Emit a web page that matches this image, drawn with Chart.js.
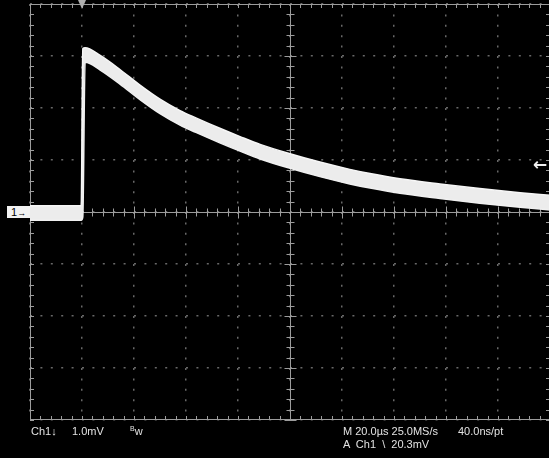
<!DOCTYPE html>
<html>
<head>
<meta charset="utf-8">
<script src="https://cdn.jsdelivr.net/npm/chart.js@4.4.1/dist/chart.umd.min.js"></script>
<style>
  html, body { margin: 0; padding: 0; background: #000; overflow: hidden; }
  #wrap { position: relative; width: 552px; height: 458px; }
  .lbl { position: absolute; color: #e2e2e2; font: 11px "Liberation Sans", Arial, sans-serif; white-space: pre; line-height: 12px; }
  #chmark { position: absolute; background: #f2f2f2; color: #000000; font: 11px "Liberation Sans", Arial, sans-serif; width: 19px; height: 12px; line-height: 12px; padding-left: 4px; white-space: pre; }
  #trig { position: absolute; color: #f0f0f0; font: bold 17px "DejaVu Sans", sans-serif; line-height: 14px; }
</style>
</head>
<body>
<div id="wrap">
  <canvas id="scope" width="552" height="458"></canvas>
  <div id="chmark">1<span style="font-size:9px;">&#8594;</span></div>
  <div id="trig">&#8592;</div>
  <div class="lbl" style="left:31px;top:425px;">Ch1&#8595;</div>
  <div class="lbl" style="left:72px;top:425px;">1.0mV</div>
  <div class="lbl" style="left:130px;top:425px;"><span style="font-size:7px;vertical-align:top;line-height:8px;">B</span>w</div>
  <div class="lbl" style="left:343px;top:425px;">M 20.0µs 25.0MS/s</div>
  <div class="lbl" style="left:458px;top:425px;">40.0ns/pt</div>
  <div class="lbl" style="left:343px;top:438px;">A  Ch1  \  20.3mV</div>
</div>
<script>
// trace (time in µs from trigger, level in mV / div)
const times = [-20, -10, -0.3, 0.3, 1.2, 7, 14.6, 22.3, 30, 37.7, 43.8, 53, 60.8, 68.5, 80, 91.5, 103, 110.8, 122.3, 137.7, 153, 168.5, 180];
const traceHigh = [0.12, 0.12, 0.12, 3.14, 3.16, 3.01, 2.74, 2.44, 2.17, 1.95, 1.81, 1.61, 1.45, 1.30, 1.12, 0.96, 0.82, 0.74, 0.64, 0.54, 0.45, 0.37, 0.32];
const traceLow = [-0.16, -0.16, -0.16, -0.10, 2.88, 2.73, 2.46, 2.16, 1.89, 1.67, 1.53, 1.33, 1.17, 1.02, 0.84, 0.68, 0.54, 0.46, 0.36, 0.26, 0.17, 0.09, 0.04];

// graticule: 10 x 8 divisions
const timeRange = [-20, 180];
const timePerDiv = 20;
const voltRange = [-4, 4];
const voltPerDiv = 1;
const triggerTime = 0;
const triggerLevel = 0.9;

const gratColor = '#9c9c9c';

// frame, centre cross, minor ticks and trigger marker
const graticule = {
    id: 'graticule',
    beforeDatasetsDraw(chart) {
        const { ctx, chartArea: a, scales: { x, y } } = chart;
        const cx = Math.round(x.getPixelForValue((timeRange[0] + timeRange[1]) / 2)) + 0.5;
        const cy = Math.round(y.getPixelForValue(0)) + 0.5;
        ctx.save();
        ctx.strokeStyle = gratColor;
        ctx.lineWidth = 1;
        ctx.strokeRect(a.left + 0.5, a.top + 0.5, a.width - 1, a.height - 1);
        ctx.beginPath();
        ctx.moveTo(cx, a.top); ctx.lineTo(cx, a.bottom);
        ctx.moveTo(a.left, cy); ctx.lineTo(a.right, cy);

        // minor ticks along time axis
        const tStep = timePerDiv / 5;
        for (let t = timeRange[0]; t <= timeRange[1] + 1e-6; t += tStep) {
            const px = Math.round(x.getPixelForValue(t)) + 0.5;
            const major = Math.abs((t - timeRange[0]) % timePerDiv) < 1e-6;
            const len = major ? 6 : 4;
            ctx.moveTo(px, a.top); ctx.lineTo(px, a.top + 4);
            ctx.moveTo(px, a.bottom); ctx.lineTo(px, a.bottom - 4);
            ctx.moveTo(px, cy - len); ctx.lineTo(px, cy + len);
        }
        // minor ticks along volt axis
        const vStep = voltPerDiv / 5;
        for (let v = voltRange[0]; v <= voltRange[1] + 1e-6; v += vStep) {
            const py = Math.round(y.getPixelForValue(v)) + 0.5;
            const major = Math.abs(Math.round(v / voltPerDiv) - v / voltPerDiv) < 1e-6;
            const len = major ? 6 : 4;
            ctx.moveTo(a.left, py); ctx.lineTo(a.left + 4, py);
            ctx.moveTo(a.right, py); ctx.lineTo(a.right - 4, py);
            ctx.moveTo(cx - len, py); ctx.lineTo(cx + len, py);
        }
        ctx.stroke();

        // trigger position marker at top
        const tx = x.getPixelForValue(triggerTime);
        ctx.fillStyle = '#b0b0b0';
        ctx.beginPath();
        ctx.moveTo(tx - 4, a.top - 4);
        ctx.lineTo(tx + 4, a.top - 4);
        ctx.lineTo(tx, a.top + 5);
        ctx.closePath();
        ctx.fill();
        ctx.restore();
    }
};

const ctx = document.getElementById('scope').getContext('2d');
const chart = new Chart(ctx, {
    type: 'line',
    data: {
        datasets: [{
            label: 'high',
            data: times.map((t, i) => ({ x: t, y: traceHigh[i] })),
            borderColor: '#f6f6f6',
            borderWidth: 1.5,
            pointRadius: 0,
            cubicInterpolationMode: 'monotone',
            fill: false
        }, {
            label: 'low',
            data: times.map((t, i) => ({ x: t, y: traceLow[i] })),
            borderColor: '#f0f0f0',
            backgroundColor: '#ececec',
            borderWidth: 1.5,
            pointRadius: 0,
            cubicInterpolationMode: 'monotone',
            fill: '-1'
        }]
    },
    options: {
        responsive: false,
        animation: false,
        events: [],
        layout: { padding: { left: 30, top: 4, right: 2, bottom: 38 } },
        scales: {
            x: {
                type: 'linear',
                min: timeRange[0],
                max: timeRange[1],
                ticks: { display: false, stepSize: timePerDiv },
                grid: { color: '#686868', lineWidth: 1.5, drawTicks: false },
                border: { display: false, dash: [2, 8.4] }
            },
            y: {
                min: voltRange[0],
                max: voltRange[1],
                ticks: { display: false, stepSize: voltPerDiv },
                grid: { color: '#686868', lineWidth: 1.5, drawTicks: false },
                border: { display: false, dash: [2, 8.4] }
            }
        },
        plugins: {
            legend: { display: false },
            tooltip: { enabled: false }
        }
    },
    plugins: [graticule]
});

// channel ground marker and trigger level arrow
const zeroY = chart.scales.y.getPixelForValue(0);
const chmark = document.getElementById('chmark');
chmark.style.left = (chart.chartArea.left - 23) + 'px';
chmark.style.top = (zeroY - 6) + 'px';
const trig = document.getElementById('trig');
trig.style.left = (chart.chartArea.right - 17) + 'px';
trig.style.top = (chart.scales.y.getPixelForValue(triggerLevel) - 8) + 'px';
</script>
</body>
</html>
